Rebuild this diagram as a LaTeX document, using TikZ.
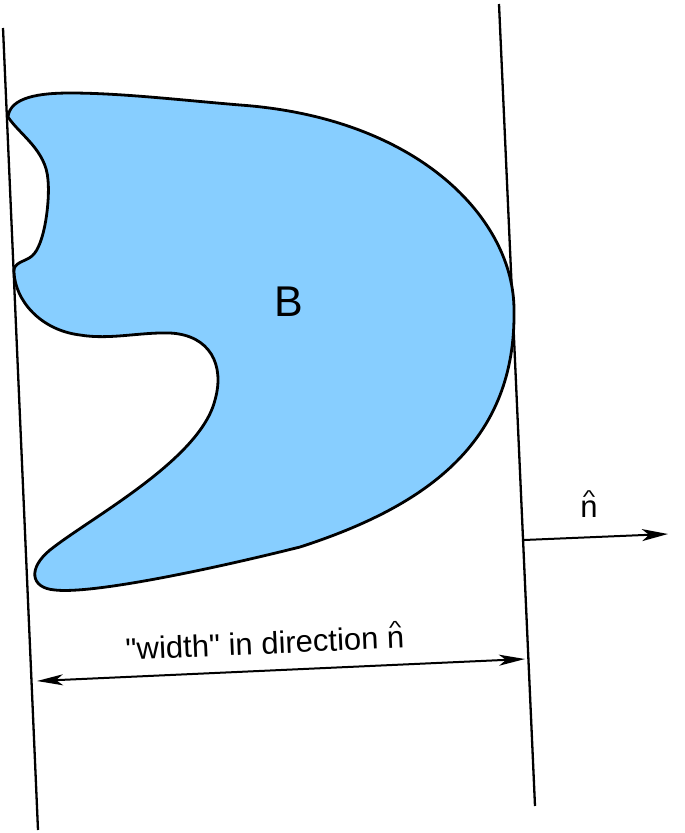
\documentclass[tikz,border=0pt]{standalone}
\usepackage{fontspec}
\setmainfont{Liberation Sans}
\usetikzlibrary{arrows.meta}
\definecolor{blobblue}{RGB}{135,206,255}
\newcommand\nhatsym{\ooalign{n\cr\hidewidth\raisebox{0.45em}{\scalebox{0.85}[0.6]{\textasciicircum}}\hidewidth\cr}}
\tikzset{
  wall/.style={line width=2.3pt, black},
  blob/.style={line width=2.8pt, black, fill=blobblue, line join=round},
  measure/.style={line width=2pt, black},
  lbl/.style={inner sep=0pt, font=\fontsize{31}{36}\selectfont},
}
\begin{document}
\begin{tikzpicture}[x=1pt,y=-1pt]
\useasboundingbox (0,0) rectangle (685,833);
% parallel supporting lines
\coordinate (L1) at (3,28);
\coordinate (L2) at (38,830);
\coordinate (R1) at (499,4);
\coordinate (R2) at (535,806);
\draw[wall] (L1) -- (L2);
\draw[wall] (R1) -- (R2);
% the set B
\draw[blob] (8,117)
  .. controls (10,97) and (40,93) .. (70,93)
  .. controls (120,93) and (180,100) .. (240,105)
  .. controls (420,118) and (514,220) .. (514,310)
  .. controls (516,440) and (430,505) .. (300,547)
  .. controls (200,572) and (90,594) .. (55,590)
  .. controls (30,588) and (28,568) .. (50,550)
  .. controls (90,518) and (200,460) .. (215,400)
  .. controls (225,365) and (210,335) .. (170,333)
  .. controls (140,332) and (110,340) .. (80,335)
  .. controls (40,330) and (15,300) .. (14,272)
  .. controls (13,262) and (25,262) .. (32,256)
  .. controls (45,245) and (50,200) .. (48,180)
  .. controls (46,150) and (20,135) .. cycle;
\node[inner sep=0pt, font=\fontsize{43}{50}\selectfont] (B) at (289,302) {B};
% normal direction
\coordinate (N1) at (524,540);
\coordinate (N2) at (668,534);
\draw[measure, -{Stealth[length=26pt,width=12pt,inset=7pt]}] (N1) -- (N2);
\node[lbl] (nlab) at (589,509) {\nhatsym};
% width arrow
\coordinate (W1) at (37,681);
\coordinate (W2) at (525,659);
\draw[measure, {Stealth[length=26pt,width=11pt,inset=7pt]}-{Stealth[length=26pt,width=11pt,inset=7pt]}] (W1) -- (W2);
\node[lbl, rotate=2.5] (wlab) at (265,643) {\textquotedbl width\textquotedbl{} in direction \nhatsym};
\end{tikzpicture}
\end{document}
